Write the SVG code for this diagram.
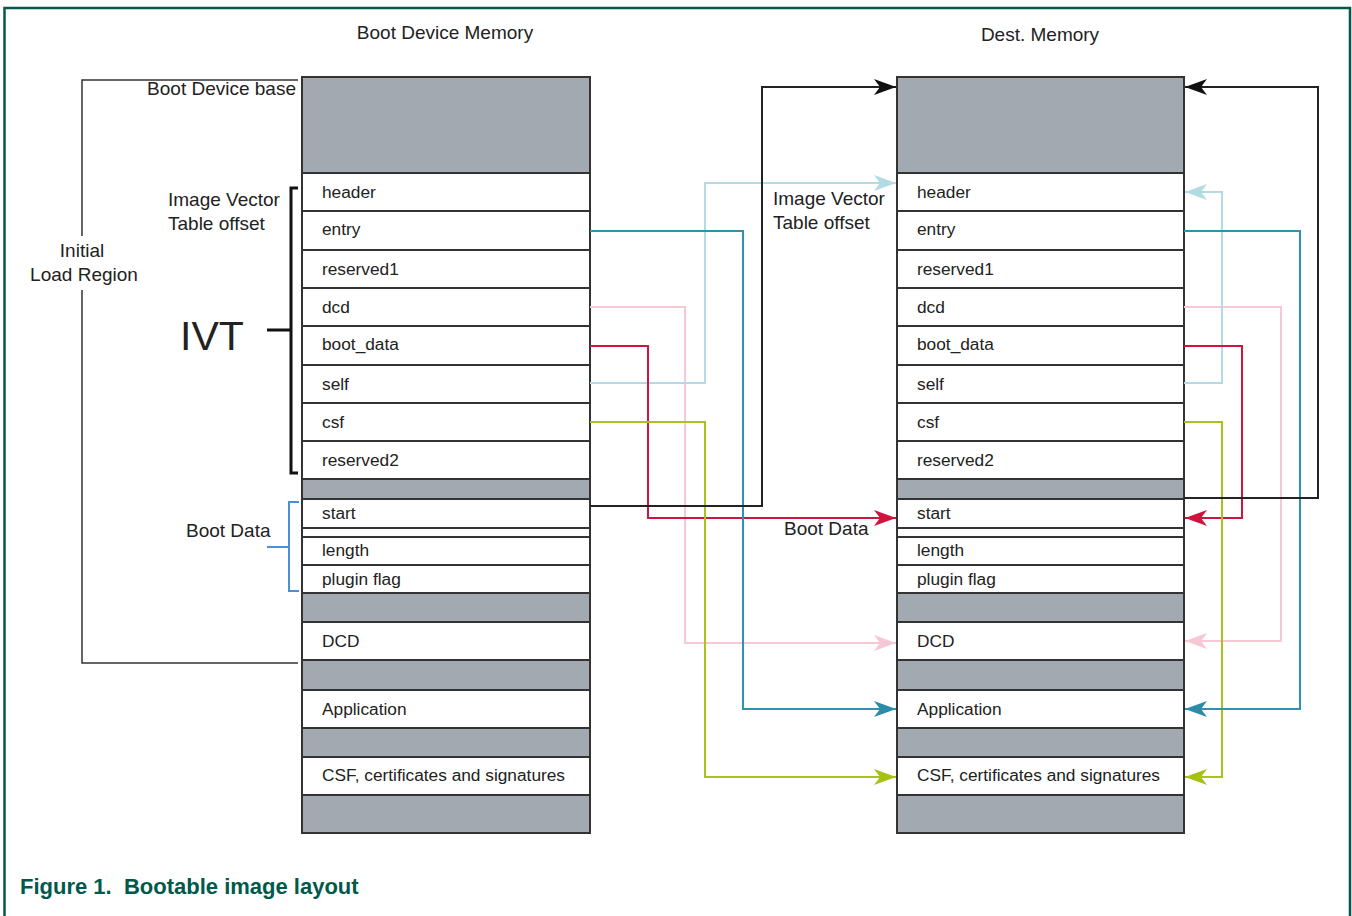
<svg xmlns="http://www.w3.org/2000/svg" width="1352" height="916" viewBox="0 0 1352 916">
<defs>
<style>
text{font-family:"Liberation Sans",Arial,sans-serif;fill:#222}
.lbl{font-size:17.3px}
.big{font-size:19px}
.cell{fill:#fff;stroke:#333;stroke-width:2}
.gray{fill:#a2a9b1;stroke:#333;stroke-width:2}
.conn{fill:none;stroke-width:2}
.blk{stroke:#222}
.lb{stroke:#b3dbe4}
.tl{stroke:#2f93ad}
.pk{stroke:#f5c8d3}
.rd{stroke:#d0133f}
.yg{stroke:#aac21e}
</style>
<marker id="aBlk" markerUnits="userSpaceOnUse" markerWidth="24" markerHeight="18" refX="22" refY="9" orient="auto"><path d="M0,1 L22,9 L0,17 L6,9 z" fill="#111"/></marker>
<marker id="aLb" markerUnits="userSpaceOnUse" markerWidth="24" markerHeight="18" refX="22" refY="9" orient="auto"><path d="M0,1 L22,9 L0,17 L6,9 z" fill="#b3dbe4"/></marker>
<marker id="aTl" markerUnits="userSpaceOnUse" markerWidth="24" markerHeight="18" refX="22" refY="9" orient="auto"><path d="M0,1 L22,9 L0,17 L6,9 z" fill="#2a8ca8"/></marker>
<marker id="aPk" markerUnits="userSpaceOnUse" markerWidth="24" markerHeight="18" refX="22" refY="9" orient="auto"><path d="M0,1 L22,9 L0,17 L6,9 z" fill="#f5c8d3"/></marker>
<marker id="aRd" markerUnits="userSpaceOnUse" markerWidth="24" markerHeight="18" refX="22" refY="9" orient="auto"><path d="M0,1 L22,9 L0,17 L6,9 z" fill="#d0133f"/></marker>
<marker id="aYg" markerUnits="userSpaceOnUse" markerWidth="24" markerHeight="18" refX="22" refY="9" orient="auto"><path d="M0,1 L22,9 L0,17 L6,9 z" fill="#a8c010"/></marker>
</defs>
<rect x="0" y="0" width="1352" height="916" fill="#fff"/>
<path d="M4.5,916 V8 H1350 V916" fill="none" stroke="#00594a" stroke-width="2.5"/>

<text class="big" x="445" y="39" text-anchor="middle">Boot Device Memory</text>
<text class="big" x="1040" y="41" text-anchor="middle">Dest. Memory</text>

<!-- Left column -->
<g id="src-memory">
<g id="src-top"><rect class="gray" x="302" y="77" width="288" height="96"/></g>
<g id="src-header"><rect class="cell" x="302" y="173" width="288" height="38"/><text class="lbl" x="322" y="198">header</text></g>
<g id="src-entry"><rect class="cell" x="302" y="211" width="288" height="39"/><text class="lbl" x="322" y="235">entry</text></g>
<g id="src-reserved1"><rect class="cell" x="302" y="250" width="288" height="38"/><text class="lbl" x="322" y="275">reserved1</text></g>
<g id="src-dcd"><rect class="cell" x="302" y="288" width="288" height="38"/><text class="lbl" x="322" y="313">dcd</text></g>
<g id="src-boot_data"><rect class="cell" x="302" y="326" width="288" height="39"/><text class="lbl" x="322" y="350">boot_data</text></g>
<g id="src-self"><rect class="cell" x="302" y="365" width="288" height="38"/><text class="lbl" x="322" y="390">self</text></g>
<g id="src-csf"><rect class="cell" x="302" y="403" width="288" height="38"/><text class="lbl" x="322" y="428">csf</text></g>
<g id="src-reserved2"><rect class="cell" x="302" y="441" width="288" height="38"/><text class="lbl" x="322" y="466">reserved2</text></g>
<g id="src-gap1"><rect class="gray" x="302" y="479" width="288" height="20"/></g>
<g id="src-start"><rect class="cell" x="302" y="499" width="288" height="29"/><text class="lbl" x="322" y="519">start</text></g>
<g id="src-gap2"><rect class="cell" x="302" y="528" width="288" height="9"/></g>
<g id="src-length"><rect class="cell" x="302" y="537" width="288" height="28"/><text class="lbl" x="322" y="556">length</text></g>
<g id="src-plugin"><rect class="cell" x="302" y="565" width="288" height="28"/><text class="lbl" x="322" y="585">plugin flag</text></g>
<g id="src-gap3"><rect class="gray" x="302" y="593" width="288" height="29"/></g>
<g id="src-DCD"><rect class="cell" x="302" y="622" width="288" height="38"/><text class="lbl" x="322" y="647">DCD</text></g>
<g id="src-gap4"><rect class="gray" x="302" y="660" width="288" height="30"/></g>
<g id="src-app"><rect class="cell" x="302" y="690" width="288" height="38"/><text class="lbl" x="322" y="715">Application</text></g>
<g id="src-gap5"><rect class="gray" x="302" y="728" width="288" height="29"/></g>
<g id="src-CSF"><rect class="cell" x="302" y="757" width="288" height="38"/><text class="lbl" x="322" y="781">CSF, certificates and signatures</text></g>
<g id="src-bottom"><rect class="gray" x="302" y="795" width="288" height="38"/></g>
</g>

<!-- Right column -->
<g id="dst-memory">
<g id="dst-top"><rect class="gray" x="897" y="77" width="287" height="96"/></g>
<g id="dst-header"><rect class="cell" x="897" y="173" width="287" height="38"/><text class="lbl" x="917" y="198">header</text></g>
<g id="dst-entry"><rect class="cell" x="897" y="211" width="287" height="39"/><text class="lbl" x="917" y="235">entry</text></g>
<g id="dst-reserved1"><rect class="cell" x="897" y="250" width="287" height="38"/><text class="lbl" x="917" y="275">reserved1</text></g>
<g id="dst-dcd"><rect class="cell" x="897" y="288" width="287" height="38"/><text class="lbl" x="917" y="313">dcd</text></g>
<g id="dst-boot_data"><rect class="cell" x="897" y="326" width="287" height="39"/><text class="lbl" x="917" y="350">boot_data</text></g>
<g id="dst-self"><rect class="cell" x="897" y="365" width="287" height="38"/><text class="lbl" x="917" y="390">self</text></g>
<g id="dst-csf"><rect class="cell" x="897" y="403" width="287" height="38"/><text class="lbl" x="917" y="428">csf</text></g>
<g id="dst-reserved2"><rect class="cell" x="897" y="441" width="287" height="38"/><text class="lbl" x="917" y="466">reserved2</text></g>
<g id="dst-gap1"><rect class="gray" x="897" y="479" width="287" height="20"/></g>
<g id="dst-start"><rect class="cell" x="897" y="499" width="287" height="29"/><text class="lbl" x="917" y="519">start</text></g>
<g id="dst-gap2"><rect class="cell" x="897" y="528" width="287" height="9"/></g>
<g id="dst-length"><rect class="cell" x="897" y="537" width="287" height="28"/><text class="lbl" x="917" y="556">length</text></g>
<g id="dst-plugin"><rect class="cell" x="897" y="565" width="287" height="28"/><text class="lbl" x="917" y="585">plugin flag</text></g>
<g id="dst-gap3"><rect class="gray" x="897" y="593" width="287" height="29"/></g>
<g id="dst-DCD"><rect class="cell" x="897" y="622" width="287" height="38"/><text class="lbl" x="917" y="647">DCD</text></g>
<g id="dst-gap4"><rect class="gray" x="897" y="660" width="287" height="30"/></g>
<g id="dst-app"><rect class="cell" x="897" y="690" width="287" height="38"/><text class="lbl" x="917" y="715">Application</text></g>
<g id="dst-gap5"><rect class="gray" x="897" y="728" width="287" height="29"/></g>
<g id="dst-CSF"><rect class="cell" x="897" y="757" width="287" height="38"/><text class="lbl" x="917" y="781">CSF, certificates and signatures</text></g>
<g id="dst-bottom"><rect class="gray" x="897" y="795" width="287" height="38"/></g>
</g>

<!-- Left annotations -->
<g id="initial-load-region">
<path d="M298,80 H82 V236 M82,290 V663 H298" fill="none" stroke="#333" stroke-width="1.5"/>
<text class="big" x="82" y="257" text-anchor="middle">Initial</text>
<text class="big" x="84" y="281" text-anchor="middle">Load Region</text>
<text class="big" x="296" y="95" text-anchor="end">Boot Device base</text>
</g>
<g id="ivt-bracket">
<path d="M298,188 H291 V473 H298 M267,330 H291" fill="none" stroke="#111" stroke-width="3"/>
<text x="180" y="350" font-size="41">IVT</text>
<text class="big" x="168" y="206">Image Vector</text>
<text class="big" x="168" y="230">Table offset</text>
</g>
<g id="boot-data-bracket">
<path d="M299,502 H289 V591 H299 M267,547 H289" fill="none" stroke="#4a90d9" stroke-width="2"/>
<text class="big" x="186" y="537">Boot Data</text>
</g>

<!-- Right annotations -->
<g id="right-labels">
<text class="big" x="773" y="205">Image Vector</text>
<text class="big" x="773" y="229">Table offset</text>
<text class="big" x="784" y="535">Boot Data</text>
</g>

<!-- Connectors -->
<g id="connectors">
<path class="conn pk" d="M590,307 H685 V643 H896" marker-end="url(#aPk)"/>
<path class="conn lb" d="M590,383 H705 V183 H896" marker-end="url(#aLb)"/>
<path class="conn rd" d="M590,346 H648 V518 H896" marker-end="url(#aRd)"/>
<path class="conn yg" d="M590,422 H705 V777 H896" marker-end="url(#aYg)"/>
<path class="conn tl" d="M590,231 H743 V709 H896" marker-end="url(#aTl)"/>
<path class="conn blk" d="M590,506 H762 V87 H896" marker-end="url(#aBlk)"/>

<path class="conn pk" d="M1184,307 H1281 V641 H1185" marker-end="url(#aPk)"/>
<path class="conn lb" d="M1184,383 H1222 V192 H1185" marker-end="url(#aLb)"/>
<path class="conn rd" d="M1184,346 H1242 V518 H1185" marker-end="url(#aRd)"/>
<path class="conn yg" d="M1184,422 H1222 V777 H1185" marker-end="url(#aYg)"/>
<path class="conn tl" d="M1184,231 H1300 V709 H1185" marker-end="url(#aTl)"/>
<path class="conn blk" d="M1184,498 H1318 V87 H1185" marker-end="url(#aBlk)"/>
</g>

<text x="20" y="894" font-size="22" font-weight="bold" xml:space="preserve" style="fill:#00594a">Figure 1.  Bootable image layout</text>
</svg>
